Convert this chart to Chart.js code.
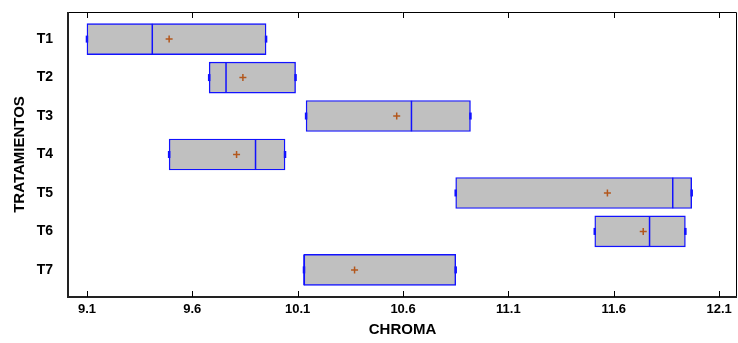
<!DOCTYPE html>
<html>
<head>
<meta charset="utf-8">
<script src="https://cdn.jsdelivr.net/npm/chart.js@4.4.1/dist/chart.umd.min.js"></script>
<style>
  html, body { margin: 0; padding: 0; background: #ffffff; }
  canvas { display: block; }
</style>
</head>
<body>
<canvas id="c" width="738" height="343"></canvas>
<script>
const categories = ['T1', 'T2', 'T3', 'T4', 'T5', 'T6', 'T7'];
const minVals    = [9.10, 9.68, 10.14, 9.49, 10.85, 11.51, 10.13];
const maxVals    = [9.95, 10.09, 10.92, 10.04, 11.97, 11.94, 10.85];
const medianVals = [9.41, 9.76, 10.64, 9.90, 11.88, 11.77, 10.13];
const meanVals   = [9.49, 9.84, 10.57, 9.81, 11.57, 11.74, 10.37];
const xTicks     = [9.1, 9.6, 10.1, 10.6, 11.1, 11.6, 12.1];

const BLUE = '#1212ff';
const FONT = 'Liberation Sans, Arial, sans-serif';

const framePlugin = {
  id: 'frame',
  beforeDatasetsDraw(chart) {
    const {ctx, chartArea: a, scales} = chart;
    ctx.save();
    ctx.strokeStyle = '#000';
    ctx.lineWidth = 1;
    ctx.beginPath();
    ctx.moveTo(a.left, a.top + 0.5);
    ctx.lineTo(a.right - 0.5, a.top + 0.5);
    ctx.lineTo(a.right - 0.5, a.bottom);
    ctx.stroke();
    ctx.strokeStyle = '#222';
    ctx.lineWidth = 2;
    ctx.beginPath();
    ctx.moveTo(a.left, a.top);
    ctx.lineTo(a.left, a.bottom);
    ctx.lineTo(a.right, a.bottom);
    ctx.stroke();
    ctx.lineWidth = 1;
    ctx.strokeStyle = '#000';
    ctx.beginPath();
    scales.x.ticks.forEach(t => {
      const px = Math.round(scales.x.getPixelForValue(t.value)) + 0.5;
      ctx.moveTo(px, a.bottom);
      ctx.lineTo(px, a.bottom - 6);
      ctx.moveTo(px, a.top);
      ctx.lineTo(px, a.top + 6);
    });
    ctx.stroke();
    ctx.restore();
  }
};

new Chart(document.getElementById('c'), {
  type: 'bar',
  data: {
    datasets: [
      {
        type: 'bar',
        indexAxis: 'y',
        data: categories.map((c, i) => ({ y: i + 1, x: [minVals[i], maxVals[i]] })),
        backgroundColor: '#c0c0c0',
        borderColor: BLUE,
        borderWidth: 1.4,
        borderSkipped: false,
        barThickness: 31,
        order: 3
      },
      {
        type: 'scatter',
        data: categories.map((c, i) => ({ x: medianVals[i], y: i + 1 })),
        pointStyle: 'line',
        rotation: 90,
        radius: 15.3,
        borderColor: BLUE,
        borderWidth: 1.5,
        order: 2
      },
      {
        type: 'scatter',
        data: categories.flatMap((c, i) => [{ x: minVals[i], y: i + 1 }, { x: maxVals[i], y: i + 1 }]),
        pointStyle: 'line',
        rotation: 90,
        radius: 3.5,
        borderColor: BLUE,
        borderWidth: 2.5,
        order: 1
      },
      {
        type: 'scatter',
        data: categories.map((c, i) => ({ x: meanVals[i], y: i + 1 })),
        pointStyle: 'cross',
        radius: 3.5,
        borderColor: '#b3571c',
        borderWidth: 1.5,
        order: 0
      }
    ]
  },
  options: {
    responsive: false,
    animation: false,
    indexAxis: 'y',
    layout: { autoPadding: false, padding: { left: 0, right: 1, top: 12, bottom: 0 } },
    plugins: { legend: { display: false }, tooltip: { enabled: false } },
    scales: {
      x: {
        type: 'linear',
        offset: false,
        min: 9.01,
        max: 12.185,
        grid: { display: false, drawTicks: false },
        border: { display: false },
        afterBuildTicks: s => { s.ticks = xTicks.map(v => ({ value: v })); },
        afterFit: s => { s.height = 46; s.paddingLeft = 0; s.paddingRight = 0; },
        ticks: {
          autoSkip: false,
          maxRotation: 0,
          padding: 5,
          color: '#000',
          font: { family: FONT, size: 13, weight: 'bold' },
          callback: v => Number(v).toFixed(1)
        },
        title: {
          display: true,
          text: 'CHROMA',
          color: '#000',
          padding: { top: 0, bottom: 4 },
          font: { family: FONT, size: 15, weight: 'bold' }
        }
      },
      y: {
        type: 'linear',
        offset: false,
        min: 0.295,
        max: 7.705,
        reverse: true,
        grid: { display: false, drawTicks: false },
        border: { display: false },
        afterBuildTicks: s => { s.ticks = categories.map((c, i) => ({ value: i + 1 })); },
        afterFit: s => { s.width = 68; s.paddingTop = 0; s.paddingBottom = 0; },
        ticks: {
          autoSkip: false,
          padding: 15,
          color: '#000',
          font: { family: FONT, size: 14, weight: 'bold' },
          callback: v => categories[Math.round(v) - 1] || ''
        },
        title: {
          display: true,
          text: 'TRATAMIENTOS',
          color: '#000',
          padding: { top: 11, bottom: 0 },
          font: { family: FONT, size: 15, weight: 'bold' }
        }
      }
    }
  },
  plugins: [framePlugin]
});
</script>
</body>
</html>
